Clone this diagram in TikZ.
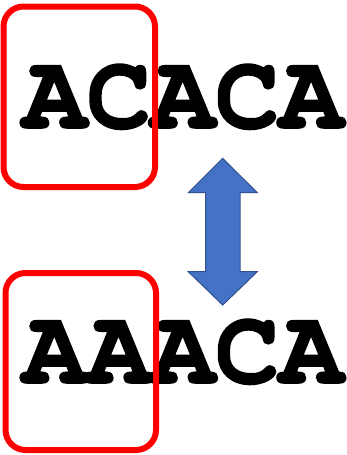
\documentclass[tikz,border=0pt]{standalone}
\usepackage{fontspec}
\newfontfamily\seqfont{TeX Gyre Cursor}[BoldFeatures={FakeBold=1.5}]
\definecolor{arrowfill}{RGB}{68,114,196}
\definecolor{arrowline}{RGB}{47,82,143}
\begin{document}
\begin{tikzpicture}[x=1pt,y=-1pt,
  seq/.style={inner sep=0pt, outer sep=0pt, anchor=base, font=\seqfont\bfseries\fontsize{107}{107}\selectfont},
  redbox/.style={draw=red, line width=6pt, rounded corners=20pt},
  dblarrow/.style={fill=arrowfill, draw=arrowline, line width=1pt, line join=miter}]
\useasboundingbox (0,0) rectangle (347,455);
\node[seq] (top) at (183,128) {ACACA};
\node[seq] (bot) at (183,383) {AAACA};
\draw[redbox] (3.5,6.5) rectangle (155,187);
\draw[redbox] (5.5,273) rectangle (156,450);
\coordinate (tip1) at (222.7,158.3);
\coordinate (tip2) at (222.7,305);
\draw[dblarrow] (tip1) -- (257.3,192.7) -- (240,192.7) -- (240,271.7) -- (257.3,271.7)
  -- (tip2) -- (188.3,271.7) -- (205.7,271.7) -- (205.7,192.7) -- (188.3,192.7) -- cycle;
\end{tikzpicture}
\end{document}
